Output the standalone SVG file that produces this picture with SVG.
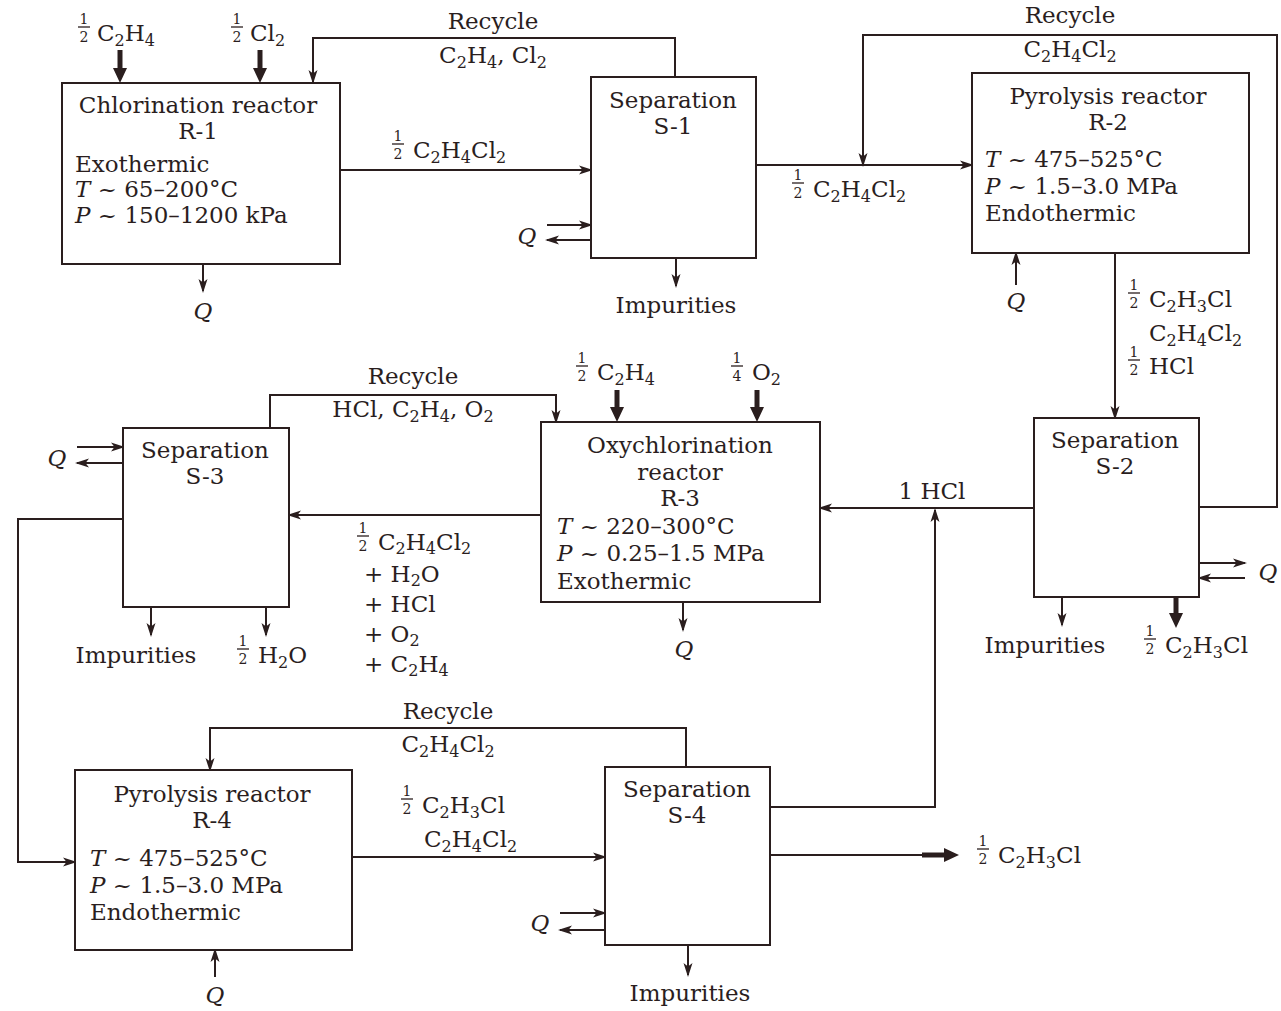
<svg xmlns="http://www.w3.org/2000/svg" width="1281" height="1011" viewBox="0 0 1281 1011">
<style>
.t{font-family:"DejaVu Serif","Liberation Serif",serif;font-size:23px;fill:#2a1e1e}
.c{text-anchor:middle}
.i{font-style:italic}
.sb{font-size:16px}
.fr{font-family:"DejaVu Serif","Liberation Serif",serif;font-size:14px;fill:#2a1e1e;text-anchor:middle}
.box{fill:#fff;stroke:#2a1e1e;stroke-width:2}
.ln{fill:none;stroke:#2a1e1e;stroke-width:2}
.th{fill:none;stroke:#2a1e1e;stroke-width:5}
.fb{stroke:#2a1e1e;stroke-width:1.3}
</style>
<defs>
<marker id="a" markerUnits="userSpaceOnUse" markerWidth="14" markerHeight="10" refX="12" refY="5" orient="auto"><path d="M0,0.5 L14,5 L0,9.5 L3.5,5 z" fill="#2a1e1e"/></marker>
<marker id="ab" markerUnits="userSpaceOnUse" markerWidth="16" markerHeight="16" refX="0" refY="8" orient="auto"><path d="M0,1 L15,8 L0,15 z" fill="#2a1e1e"/></marker>
</defs>
<rect width="1281" height="1011" fill="#fff"/>

<g id="connectors">
<path class="th" d="M120,50 V68" marker-end="url(#ab)"/>
<path class="th" d="M260,50 V68" marker-end="url(#ab)"/>
<path class="ln" d="M675,77 V38 H313 V82" marker-end="url(#a)"/>
<path class="ln" d="M340,170 H591" marker-end="url(#a)"/>
<path class="ln" d="M203,264 V291" marker-end="url(#a)"/>
<path class="ln" d="M547,225 H591" marker-end="url(#a)"/>
<path class="ln" d="M591,240 H547" marker-end="url(#a)"/>
<path class="ln" d="M676,258 V286" marker-end="url(#a)"/>
<path class="ln" d="M756,165 H972" marker-end="url(#a)"/>
<path class="ln" d="M1199,507 H1277 V35 H863 V165" marker-end="url(#a)"/>
<path class="ln" d="M1016,285 V253" marker-end="url(#a)"/>
<path class="ln" d="M1115,253 V418" marker-end="url(#a)"/>
<path class="ln" d="M1034,508 H820" marker-end="url(#a)"/>
<path class="ln" d="M1199,563 H1245" marker-end="url(#a)"/>
<path class="ln" d="M1245,578 H1199" marker-end="url(#a)"/>
<path class="ln" d="M1062,597 V625" marker-end="url(#a)"/>
<path class="th" d="M1176,597 V613" marker-end="url(#ab)"/>
<path class="th" d="M617,390 V407" marker-end="url(#ab)"/>
<path class="th" d="M757,390 V407" marker-end="url(#ab)"/>
<path class="ln" d="M270,428 V395 H556 V422" marker-end="url(#a)"/>
<path class="ln" d="M541,515 H289" marker-end="url(#a)"/>
<path class="ln" d="M683,602 V630" marker-end="url(#a)"/>
<path class="ln" d="M77,447 H123" marker-end="url(#a)"/>
<path class="ln" d="M123,463 H77" marker-end="url(#a)"/>
<path class="ln" d="M151,607 V635" marker-end="url(#a)"/>
<path class="ln" d="M266,607 V635" marker-end="url(#a)"/>
<path class="ln" d="M123,519 H18 V862 H75" marker-end="url(#a)"/>
<path class="ln" d="M686,767 V728 H210 V770" marker-end="url(#a)"/>
<path class="ln" d="M352,857 H605" marker-end="url(#a)"/>
<path class="ln" d="M215,977 V950" marker-end="url(#a)"/>
<path class="ln" d="M560,913 H605" marker-end="url(#a)"/>
<path class="ln" d="M605,930 H560" marker-end="url(#a)"/>
<path class="ln" d="M688,945 V975" marker-end="url(#a)"/>
<path class="ln" d="M770,807 H935 V510" marker-end="url(#a)"/>
<path class="ln" d="M770,855 H924"/>
<path class="th" d="M922,855 H944" marker-end="url(#ab)"/>
</g>

<g id="R-1">
<rect class="box" x="62" y="83" width="278" height="181"/>
<text class="t c" x="198" y="113">Chlorination reactor</text>
<text class="t c" x="198" y="139">R-1</text>
<text class="t" x="75" y="172">Exothermic</text>
<text class="t" x="75" y="197"><tspan class="i">T</tspan> ~ 65–200°C</text>
<text class="t" x="75" y="223"><tspan class="i">P</tspan> ~ 150–1200 kPa</text>
</g>

<g id="S-1">
<rect class="box" x="591" y="77" width="165" height="181"/>
<text class="t c" x="673" y="108">Separation</text>
<text class="t c" x="673" y="134">S-1</text>
</g>

<g id="R-2">
<rect class="box" x="972" y="73" width="277" height="180"/>
<text class="t c" x="1108" y="104">Pyrolysis reactor</text>
<text class="t c" x="1108" y="130">R-2</text>
<text class="t" x="985" y="167"><tspan class="i">T</tspan> ~ 475–525°C</text>
<text class="t" x="985" y="194"><tspan class="i">P</tspan> ~ 1.5–3.0 MPa</text>
<text class="t" x="985" y="221">Endothermic</text>
</g>

<g id="S-2">
<rect class="box" x="1034" y="418" width="165" height="179"/>
<text class="t c" x="1115" y="448">Separation</text>
<text class="t c" x="1115" y="474">S-2</text>
</g>

<g id="R-3">
<rect class="box" x="541" y="422" width="279" height="180"/>
<text class="t c" x="680" y="453">Oxychlorination</text>
<text class="t c" x="680" y="480">reactor</text>
<text class="t c" x="680" y="506">R-3</text>
<text class="t" x="557" y="534"><tspan class="i">T</tspan> ~ 220–300°C</text>
<text class="t" x="557" y="561"><tspan class="i">P</tspan> ~ 0.25–1.5 MPa</text>
<text class="t" x="557" y="589">Exothermic</text>
</g>

<g id="S-3">
<rect class="box" x="123" y="428" width="166" height="179"/>
<text class="t c" x="205" y="458">Separation</text>
<text class="t c" x="205" y="484">S-3</text>
</g>

<g id="R-4">
<rect class="box" x="75" y="770" width="277" height="180"/>
<text class="t c" x="212" y="802">Pyrolysis reactor</text>
<text class="t c" x="212" y="828">R-4</text>
<text class="t" x="90" y="866"><tspan class="i">T</tspan> ~ 475–525°C</text>
<text class="t" x="90" y="893"><tspan class="i">P</tspan> ~ 1.5–3.0 MPa</text>
<text class="t" x="90" y="920">Endothermic</text>
</g>

<g id="S-4">
<rect class="box" x="605" y="767" width="165" height="178"/>
<text class="t c" x="687" y="797">Separation</text>
<text class="t c" x="687" y="823">S-4</text>
</g>

<g id="labels">
<text class="fr" x="84" y="24">1</text><line class="fb" x1="78" y1="27" x2="90" y2="27"/><text class="fr" x="84" y="42">2</text>
<text class="t" x="97" y="41">C<tspan class="sb" dy="5">2</tspan><tspan dy="-5">H</tspan><tspan class="sb" dy="5">4</tspan></text>
<text class="fr" x="237" y="24">1</text><line class="fb" x1="231" y1="27" x2="243" y2="27"/><text class="fr" x="237" y="42">2</text>
<text class="t" x="250" y="41">Cl<tspan class="sb" dy="5">2</tspan></text>
<text class="t c" x="493" y="29">Recycle</text>
<text class="t c" x="493" y="63">C<tspan class="sb" dy="5">2</tspan><tspan dy="-5">H</tspan><tspan class="sb" dy="5">4</tspan><tspan dy="-5">, Cl</tspan><tspan class="sb" dy="5">2</tspan></text>
<text class="fr" x="398" y="141">1</text><line class="fb" x1="392" y1="144" x2="404" y2="144"/><text class="fr" x="398" y="159">2</text>
<text class="t" x="413" y="158">C<tspan class="sb" dy="5">2</tspan><tspan dy="-5">H</tspan><tspan class="sb" dy="5">4</tspan><tspan dy="-5">Cl</tspan><tspan class="sb" dy="5">2</tspan></text>
<text class="t c i" x="203" y="319">Q</text>
<text class="t c i" x="527" y="244">Q</text>
<text class="t c" x="676" y="313">Impurities</text>
<text class="fr" x="798" y="180">1</text><line class="fb" x1="792" y1="183" x2="804" y2="183"/><text class="fr" x="798" y="198">2</text>
<text class="t" x="813" y="197">C<tspan class="sb" dy="5">2</tspan><tspan dy="-5">H</tspan><tspan class="sb" dy="5">4</tspan><tspan dy="-5">Cl</tspan><tspan class="sb" dy="5">2</tspan></text>
<text class="t c" x="1070" y="23">Recycle</text>
<text class="t c" x="1070" y="57">C<tspan class="sb" dy="5">2</tspan><tspan dy="-5">H</tspan><tspan class="sb" dy="5">4</tspan><tspan dy="-5">Cl</tspan><tspan class="sb" dy="5">2</tspan></text>
<text class="t c i" x="1016" y="309">Q</text>
<text class="fr" x="1134" y="290">1</text><line class="fb" x1="1128" y1="293" x2="1140" y2="293"/><text class="fr" x="1134" y="308">2</text>
<text class="t" x="1149" y="307">C<tspan class="sb" dy="5">2</tspan><tspan dy="-5">H</tspan><tspan class="sb" dy="5">3</tspan><tspan dy="-5">Cl</tspan></text>
<text class="t" x="1149" y="341">C<tspan class="sb" dy="5">2</tspan><tspan dy="-5">H</tspan><tspan class="sb" dy="5">4</tspan><tspan dy="-5">Cl</tspan><tspan class="sb" dy="5">2</tspan></text>
<text class="fr" x="1134" y="357">1</text><line class="fb" x1="1128" y1="360" x2="1140" y2="360"/><text class="fr" x="1134" y="375">2</text>
<text class="t" x="1149" y="374">HCl</text>
<text class="t c" x="932" y="499">1 HCl</text>
<text class="t c i" x="1268" y="580">Q</text>
<text class="t c" x="1045" y="653">Impurities</text>
<text class="fr" x="1150" y="636">1</text><line class="fb" x1="1144" y1="639" x2="1156" y2="639"/><text class="fr" x="1150" y="654">2</text>
<text class="t" x="1165" y="653">C<tspan class="sb" dy="5">2</tspan><tspan dy="-5">H</tspan><tspan class="sb" dy="5">3</tspan><tspan dy="-5">Cl</tspan></text>
<text class="fr" x="582" y="363">1</text><line class="fb" x1="576" y1="366" x2="588" y2="366"/><text class="fr" x="582" y="381">2</text>
<text class="t" x="597" y="380">C<tspan class="sb" dy="5">2</tspan><tspan dy="-5">H</tspan><tspan class="sb" dy="5">4</tspan></text>
<text class="fr" x="737" y="363">1</text><line class="fb" x1="731" y1="366" x2="743" y2="366"/><text class="fr" x="737" y="381">4</text>
<text class="t" x="752" y="380">O<tspan class="sb" dy="5">2</tspan></text>
<text class="t c i" x="684" y="657">Q</text>
<text class="t c" x="413" y="384">Recycle</text>
<text class="t c" x="413" y="417">HCl, C<tspan class="sb" dy="5">2</tspan><tspan dy="-5">H</tspan><tspan class="sb" dy="5">4</tspan><tspan dy="-5">, O</tspan><tspan class="sb" dy="5">2</tspan></text>
<text class="fr" x="363" y="533">1</text><line class="fb" x1="357" y1="536" x2="369" y2="536"/><text class="fr" x="363" y="551">2</text>
<text class="t" x="378" y="550">C<tspan class="sb" dy="4">2</tspan><tspan dy="-4">H</tspan><tspan class="sb" dy="4">4</tspan><tspan dy="-4">Cl</tspan><tspan class="sb" dy="4">2</tspan></text>
<text class="t" x="364" y="582">+ H<tspan class="sb" dy="4">2</tspan><tspan dy="-4">O</tspan></text>
<text class="t" x="364" y="612">+ HCl</text>
<text class="t" x="364" y="642">+ O<tspan class="sb" dy="4">2</tspan></text>
<text class="t" x="364" y="672">+ C<tspan class="sb" dy="4">2</tspan><tspan dy="-4">H</tspan><tspan class="sb" dy="4">4</tspan></text>
<text class="t c i" x="57" y="466">Q</text>
<text class="t c" x="136" y="663">Impurities</text>
<text class="fr" x="243" y="646">1</text><line class="fb" x1="237" y1="649" x2="249" y2="649"/><text class="fr" x="243" y="664">2</text>
<text class="t" x="258" y="663">H<tspan class="sb" dy="5">2</tspan><tspan dy="-5">O</tspan></text>
<text class="t c" x="448" y="719">Recycle</text>
<text class="t c" x="448" y="752">C<tspan class="sb" dy="5">2</tspan><tspan dy="-5">H</tspan><tspan class="sb" dy="5">4</tspan><tspan dy="-5">Cl</tspan><tspan class="sb" dy="5">2</tspan></text>
<text class="fr" x="407" y="796">1</text><line class="fb" x1="401" y1="799" x2="413" y2="799"/><text class="fr" x="407" y="814">2</text>
<text class="t" x="422" y="813">C<tspan class="sb" dy="5">2</tspan><tspan dy="-5">H</tspan><tspan class="sb" dy="5">3</tspan><tspan dy="-5">Cl</tspan></text>
<text class="t" x="424" y="847">C<tspan class="sb" dy="5">2</tspan><tspan dy="-5">H</tspan><tspan class="sb" dy="5">4</tspan><tspan dy="-5">Cl</tspan><tspan class="sb" dy="5">2</tspan></text>
<text class="t c i" x="215" y="1003">Q</text>
<text class="t c i" x="540" y="931">Q</text>
<text class="t c" x="690" y="1001">Impurities</text>
<text class="fr" x="983" y="846">1</text><line class="fb" x1="977" y1="849" x2="989" y2="849"/><text class="fr" x="983" y="864">2</text>
<text class="t" x="998" y="863">C<tspan class="sb" dy="5">2</tspan><tspan dy="-5">H</tspan><tspan class="sb" dy="5">3</tspan><tspan dy="-5">Cl</tspan></text>
</g>
</svg>
